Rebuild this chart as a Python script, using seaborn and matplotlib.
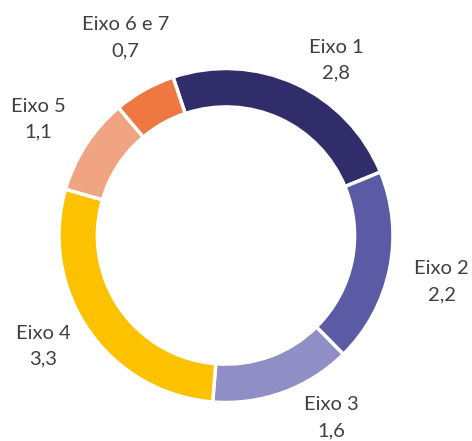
import numpy as np
import matplotlib
matplotlib.use("Agg")
import matplotlib.pyplot as plt
import seaborn as sns

sns.set_theme(style="white")
plt.rcParams["font.family"] = ["Lato", "DejaVu Sans"]

eixos = ["Eixo 1", "Eixo 2", "Eixo 3", "Eixo 4", "Eixo 5", "Eixo 6 e 7"]
valores = [2.8, 2.2, 1.6, 3.3, 1.1, 0.7]
cores = ["#312D6B", "#5B5BA5", "#8F8FC5", "#FCC200", "#F0A482", "#EF7742"]

# ajuste manual dos rótulos (graus em relação ao meio da fatia, distância)
desvio_ang = [-7.6, -0.5, 10, -3.5, 1.2, -2.4]
dist = [1.24, 1.32, 1.26, 1.28, 1.32, 1.33]

fig = plt.figure(figsize=(4.72, 4.41), dpi=100)
ax = fig.add_axes([0, 0, 1, 1])

wedges, _ = ax.pie(
    valores,
    colors=cores,
    startangle=108.5,
    counterclock=False,
    radius=1,
    wedgeprops=dict(width=0.23, edgecolor="white", linewidth=2.5),
)

for w, nome, v, da, d in zip(wedges, eixos, valores, desvio_ang, dist):
    meio = np.deg2rad((w.theta1 + w.theta2) / 2 + da)
    ax.text(
        d * np.cos(meio),
        d * np.sin(meio),
        f"{nome}\n{v:.1f}".replace(".", ","),
        ha="center",
        va="center",
        fontsize=14.5,
        color="#404040",
        linespacing=1.65,
    )

R = 167
ax.set_xlim(-226 / R, (472 - 226) / R)
ax.set_ylim(-(441 - 235.5) / R, 235.5 / R)
ax.set_aspect("auto")
ax.axis("off")

fig.savefig("out.png", dpi=100)
